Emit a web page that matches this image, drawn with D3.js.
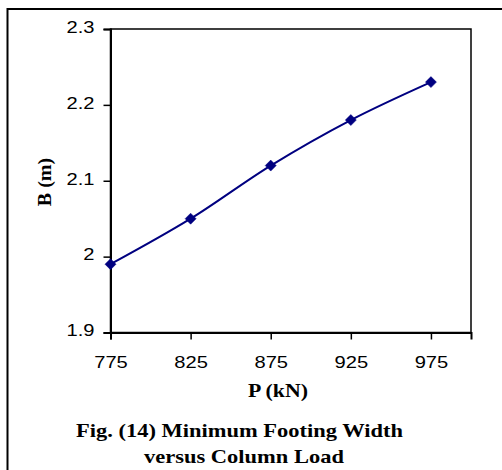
<!DOCTYPE html>
<html>
<head>
<meta charset="utf-8">
<script src="https://cdn.jsdelivr.net/npm/d3@7"></script>
<style>
  html, body { margin: 0; padding: 0; background: #fff; }
  svg { display: block; }
</style>
</head>
<body>
<svg id="chart" width="502" height="470"></svg>
<script>
// ---- data ----
const loads = [775, 825, 875, 925, 975];          // P (kN)
const widths = [1.99, 2.05, 2.12, 2.18, 2.23];    // B (m)
const xTicks = [775, 825, 875, 925, 975];
const yTicks = [1.9, 2.0, 2.1, 2.2, 2.3];
const xTitle = "P (kN)";
const yTitle = "B (m)";
const captionLines = ["Fig. (14) Minimum Footing Width", "versus Column Load"];

(function () {
const svg = d3.select("#chart");
const stretch = 1.22;

// outer frame (extends off the right/bottom edges)
svg.append("rect").attr("x", 7.5).attr("y", 9).attr("width", 700).attr("height", 700)
  .attr("fill", "none").attr("stroke", "#000").attr("stroke-width", 2);

const pLeft = 110.5, pRight = 471, pTop = 29, pBottom = 332.5;
const x = d3.scaleLinear().domain([775, 1000]).range([pLeft, pRight]);
const y = d3.scaleLinear().domain([1.9, 2.3]).range([pBottom, pTop]);

// plot area border
svg.append("rect").attr("x", pLeft).attr("y", pTop).attr("width", pRight - pLeft).attr("height", pBottom - pTop)
  .attr("fill", "#fff").attr("stroke", "#000").attr("stroke-width", 1.5);

function stretchText(sel, k) {
  sel.each(function() {
    const w = this.getComputedTextLength();
    d3.select(this).attr("textLength", w * k).attr("lengthAdjust", "spacingAndGlyphs");
  });
}

// y axis
const yAxis = svg.append("g").attr("transform", `translate(${pLeft},0)`)
  .call(d3.axisLeft(y).tickValues(yTicks).tickSize(7).tickPadding(9)
    .tickFormat(d => String(+d.toFixed(1))));
yAxis.select(".domain").attr("stroke-width", 2);
yAxis.selectAll(".tick line").attr("stroke-width", 1.5);
yAxis.selectAll("text").attr("font-family", "'Liberation Sans', Arial, sans-serif")
  .attr("font-size", 16.5).attr("fill", "#000").attr("dy", "0.2em");
stretchText(yAxis.selectAll("text"), stretch);

// x axis
const xAxis = svg.append("g").attr("transform", `translate(0,${pBottom})`)
  .call(d3.axisBottom(x).tickValues(xTicks).tickSize(7).tickPadding(17).tickFormat(d3.format("d")));
xAxis.select(".domain").attr("stroke-width", 2);
xAxis.selectAll(".tick line").attr("stroke-width", 1.5);
xAxis.selectAll("text").attr("font-family", "'Liberation Sans', Arial, sans-serif")
  .attr("font-size", 16.5).attr("fill", "#000");
stretchText(xAxis.selectAll("text"), stretch);

// line (smoothed)
const pts = loads.map((p, i) => [p, widths[i]]);
svg.append("path").datum(pts)
  .attr("fill", "none").attr("stroke", "#000080").attr("stroke-width", 2)
  .attr("d", d3.line().x(d => x(d[0])).y(d => y(d[1])).curve(d3.curveCatmullRom.alpha(0.5)));

// diamond markers
const r = 5.5;
svg.selectAll(".mk").data(pts).enter().append("path").attr("class", "mk")
  .attr("fill", "#000080").attr("stroke", "#000080").attr("stroke-width", 0.5)
  .attr("d", d => {
    const cx = x(d[0]), cy = y(d[1]);
    return `M${cx},${cy - r}L${cx + r},${cy}L${cx},${cy + r}L${cx - r},${cy}Z`;
  });

// axis titles
const serif = "'Liberation Serif', 'Times New Roman', serif";
svg.append("text").attr("x", 278).attr("y", 396.5).attr("text-anchor", "middle")
  .attr("font-family", serif).attr("font-weight", "bold").attr("font-size", 19)
  .attr("textLength", 60).attr("lengthAdjust", "spacingAndGlyphs").text(xTitle);

svg.append("text").attr("transform", "translate(51,182) rotate(-90)").attr("text-anchor", "middle")
  .attr("font-family", serif).attr("font-weight", "bold").attr("font-size", 19)
  .attr("textLength", 48.5).attr("lengthAdjust", "spacingAndGlyphs").text(yTitle);

// caption
svg.append("text").attr("x", 239.5).attr("y", 436.5).attr("text-anchor", "middle")
  .attr("font-family", serif).attr("font-weight", "bold").attr("font-size", 19)
  .attr("textLength", 327).attr("lengthAdjust", "spacingAndGlyphs").text(captionLines[0]);
svg.append("text").attr("x", 244).attr("y", 463).attr("text-anchor", "middle")
  .attr("font-family", serif).attr("font-weight", "bold").attr("font-size", 19)
  .attr("textLength", 200).attr("lengthAdjust", "spacingAndGlyphs").text(captionLines[1]);
})();
</script>
</body>
</html>
